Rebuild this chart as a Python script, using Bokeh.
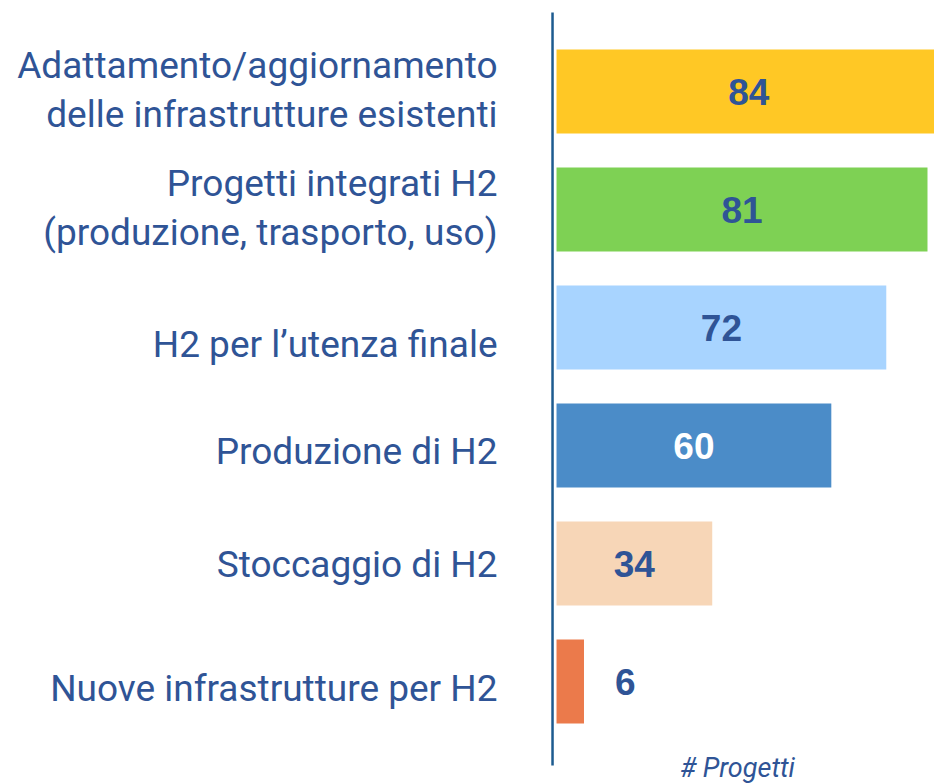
from bokeh.plotting import figure
from bokeh.models import ColumnDataSource, Range1d
from bokeh.core.properties import value
from bokeh.embed import file_html
from bokeh.resources import INLINE

categories = [
    "Adattamento/aggiornamento\ndelle infrastrutture esistenti",
    "Progetti integrati H2\n(produzione, trasporto, uso)",
    "H2 per l\u2019utenza finale",
    "Produzione di H2",
    "Stoccaggio di H2",
    "Nuove infrastrutture per H2",
]
values = [84, 81, 72, 60, 34, 6]
colors = ["#FFC825", "#7ED154", "#A8D4FF", "#4B8CC8", "#F7D6B7", "#EB7A4B"]
value_colors = ["#2F5496", "#2F5496", "#2F5496", "#FFFFFF", "#2F5496", "#2F5496"]
label_dy = [-0.01, -0.01, 0.14, 0.05, 0.01, 0.06]   # small vertical nudges (in row units)
x_title = "# Progetti"

TXT = "#2F5496"
pos = list(range(len(categories)))
value_x = [v / 2 if v >= 20 else v + 9 for v in values]

src = ColumnDataSource(dict(
    y=pos, v=values, color=colors, vcol=value_colors, vx=value_x,
    lab=categories, ly=[p + d for p, d in zip(pos, label_dy)],
    vtxt=[str(v) for v in values],
))

W, H = 934, 783
p = figure(width=W, height=H, output_backend="svg", toolbar_location=None,
           x_range=Range1d(-121.4, 82.53), y_range=Range1d(5.864, -0.7712),
           min_border=0, outline_line_color=None)
p.axis.visible = False
p.grid.visible = False
p.background_fill_color = "white"
p.border_fill_color = "white"

p.hbar(y="y", left=0, right="v", height=0.712, fill_color="color",
       line_color=None, source=src)

# vertical axis line
p.segment(x0=[-0.87], y0=[-0.669], x1=[-0.87], y1=[5.712],
          line_color="#1D5B8F", line_width=2.5)

p.text(x=-12.88, y="ly", text="lab", source=src, text_align="right",
       text_baseline="middle", text_font=value("Roboto"), text_font_size="37px",
       text_color=TXT, text_line_height=1.135)

p.text(x="vx", y="y", text="vtxt", source=src, text_align="center",
       text_baseline="middle", text_font=value("Liberation Sans"),
       text_font_size="37px", text_font_style="bold", text_color="vcol")

p.text(x=[39.5], y=[5.729], text=[x_title], text_align="center",
       text_baseline="middle", text_font=value("Roboto"), text_font_size="27px",
       text_font_style="italic", text_color=TXT)

open("out.html", "w").write(file_html(p, INLINE))
